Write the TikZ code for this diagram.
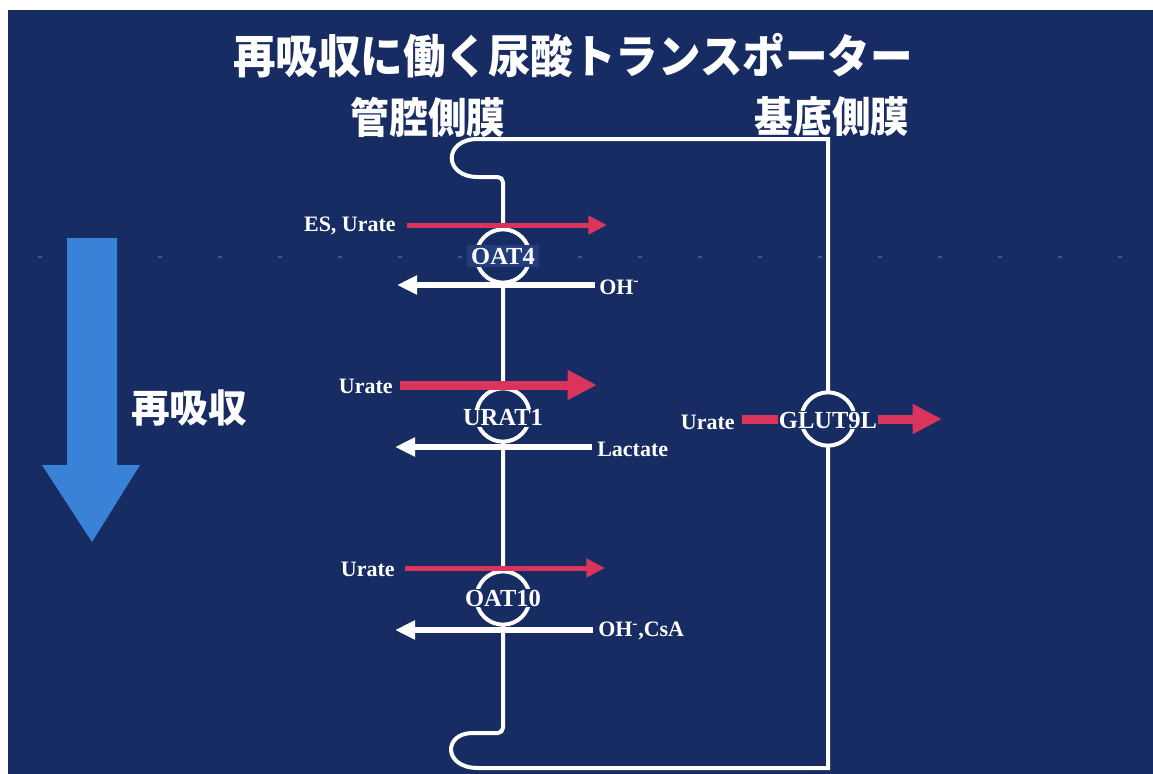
\documentclass[tikz,border=0pt]{standalone}
\usepackage{fontspec}
\setmainfont{Liberation Serif}
\newfontfamily\jp{Noto Sans CJK JP}
\usetikzlibrary{arrows.meta}
\definecolor{navy}{RGB}{22,44,98}
\definecolor{boxblue}{RGB}{34,60,124}
\definecolor{crim}{RGB}{218,52,92}
\definecolor{bigblue}{RGB}{58,130,215}
\definecolor{guidec}{RGB}{55,88,150}
\tikzset{
  membrane/.style={draw=white,line width=3pt},
  transporter/.style={circle,draw=white,line width=3pt,fill=navy,minimum size=40pt,inner sep=0pt},
  tlabel/.style={text=white,font=\bfseries\fontsize{18.4}{20}\selectfont,fill=navy,inner sep=0.5pt},
  slabel/.style={text=white,font=\bfseries\fontsize{16.5}{18}\selectfont,inner sep=0pt},
  redthin/.style={draw=crim,line width=3.75pt,-{Triangle[length=14pt,width=13.5pt]}},
  redthick/.style={draw=crim,line width=6.75pt,-{Triangle[length=22pt,width=21pt]}},
  whitearr/.style={draw=white,line width=4.5pt,-{Triangle[length=15pt,width=13.5pt]}},
  jptitle/.style={text=white,font=\jp\bfseries\fontsize{34.5}{36}\selectfont,inner sep=0pt},
  jphead/.style={text=white,font=\jp\bfseries\fontsize{31.5}{33}\selectfont,inner sep=0pt},
  guide/.style={draw=guidec,line width=1.5pt,dash pattern=on 3pt off 42pt}
}
\begin{document}
\begin{tikzpicture}[x=0.75pt,y=-0.75pt]
\useasboundingbox (0,0) rectangle (1153,774);
\fill[white] (0,0) rectangle (1153,774);
\fill[navy] (8,10) rectangle (1153,774);
\draw[guide] (38,257) -- (1150,257);

% title and headers
\node[jptitle,xscale=0.925] (title) at (573,56) {再吸収に働く尿酸トランスポーター};
\node[jphead,xscale=0.92] (lumen) at (428,117) {管腔側膜};
\node[jphead,xscale=0.92] (baso) at (832,117) {基底側膜};

% big reabsorption arrow
\fill[bigblue] (67,238) -- (117,238) -- (117,465) -- (140,465) -- (92,542) -- (42,465) -- (67,465) -- cycle;
\node[text=white,font=\jp\bfseries\fontsize{29}{31}\selectfont,inner sep=0pt] (reab) at (189,408) {再吸収};

% membranes
\draw[membrane] (828,139) -- (478,139) .. controls (443,139) and (443,177) .. (478,177)
  [rounded corners=4pt] -- (503,177) -- (503,733) -- (478,733) [sharp corners] .. controls (443,733) and (443,768) .. (478,768)
  -- (828,768) -- cycle;

% transporters
\node[transporter] (oat4) at (503,256) {};
\node[transporter] (urat1) at (503,415) {};
\node[transporter] (oat10) at (503,598) {};
\node[transporter] (glut) at (828,419) {};

% arrow end points
\coordinate (a1s) at (407,225);  \coordinate (a1e) at (607,225);
\coordinate (b1s) at (595,285);  \coordinate (b1e) at (397,285);
\coordinate (a2s) at (400,385);  \coordinate (a2e) at (597,385);
\coordinate (b2s) at (592,447);  \coordinate (b2e) at (395,447);
\coordinate (a3s) at (405,568);  \coordinate (a3e) at (605,568);
\coordinate (b3s) at (593,630);  \coordinate (b3e) at (395,630);
\coordinate (a4s) at (742,419);  \coordinate (a4e) at (942,419);

\draw[redthin] (a1s) -- (a1e);
\draw[whitearr] (b1s) -- (b1e);
\draw[redthick] (a2s) -- (a2e);
\draw[whitearr] (b2s) -- (b2e);
\draw[redthin] (a3s) -- (a3e);
\draw[whitearr] (b3s) -- (b3e);
\draw[redthick] (a4s) -- (a4e);

% transporter labels
\node[tlabel,fill=boxblue,inner xsep=3pt,inner ysep=2pt] (oat4l) at (oat4.center) {OAT4};
\node[tlabel] (urat1l) at ([yshift=-2]urat1.center) {URAT1};
\node[tlabel] (oat10l) at (oat10.center) {OAT10};
\node[tlabel] (glutl) at ([yshift=-1]glut.center) {GLUT9L};

% substrate labels
\node[slabel,anchor=east] (s1) at (396,226) {ES, Urate};
\node[slabel,anchor=west] (s2) at (599,287) {OH\textsuperscript{-}};
\node[slabel,anchor=east] (s3) at (393,386) {Urate};
\node[slabel,anchor=west] (s4) at (597,449) {Lactate};
\node[slabel,anchor=east] (s5) at (395,569) {Urate};
\node[slabel,anchor=west] (s6) at (598,631) {OH\textsuperscript{-},CsA};
\node[slabel,anchor=east] (s7) at (735,422) {Urate};
\end{tikzpicture}
\end{document}
